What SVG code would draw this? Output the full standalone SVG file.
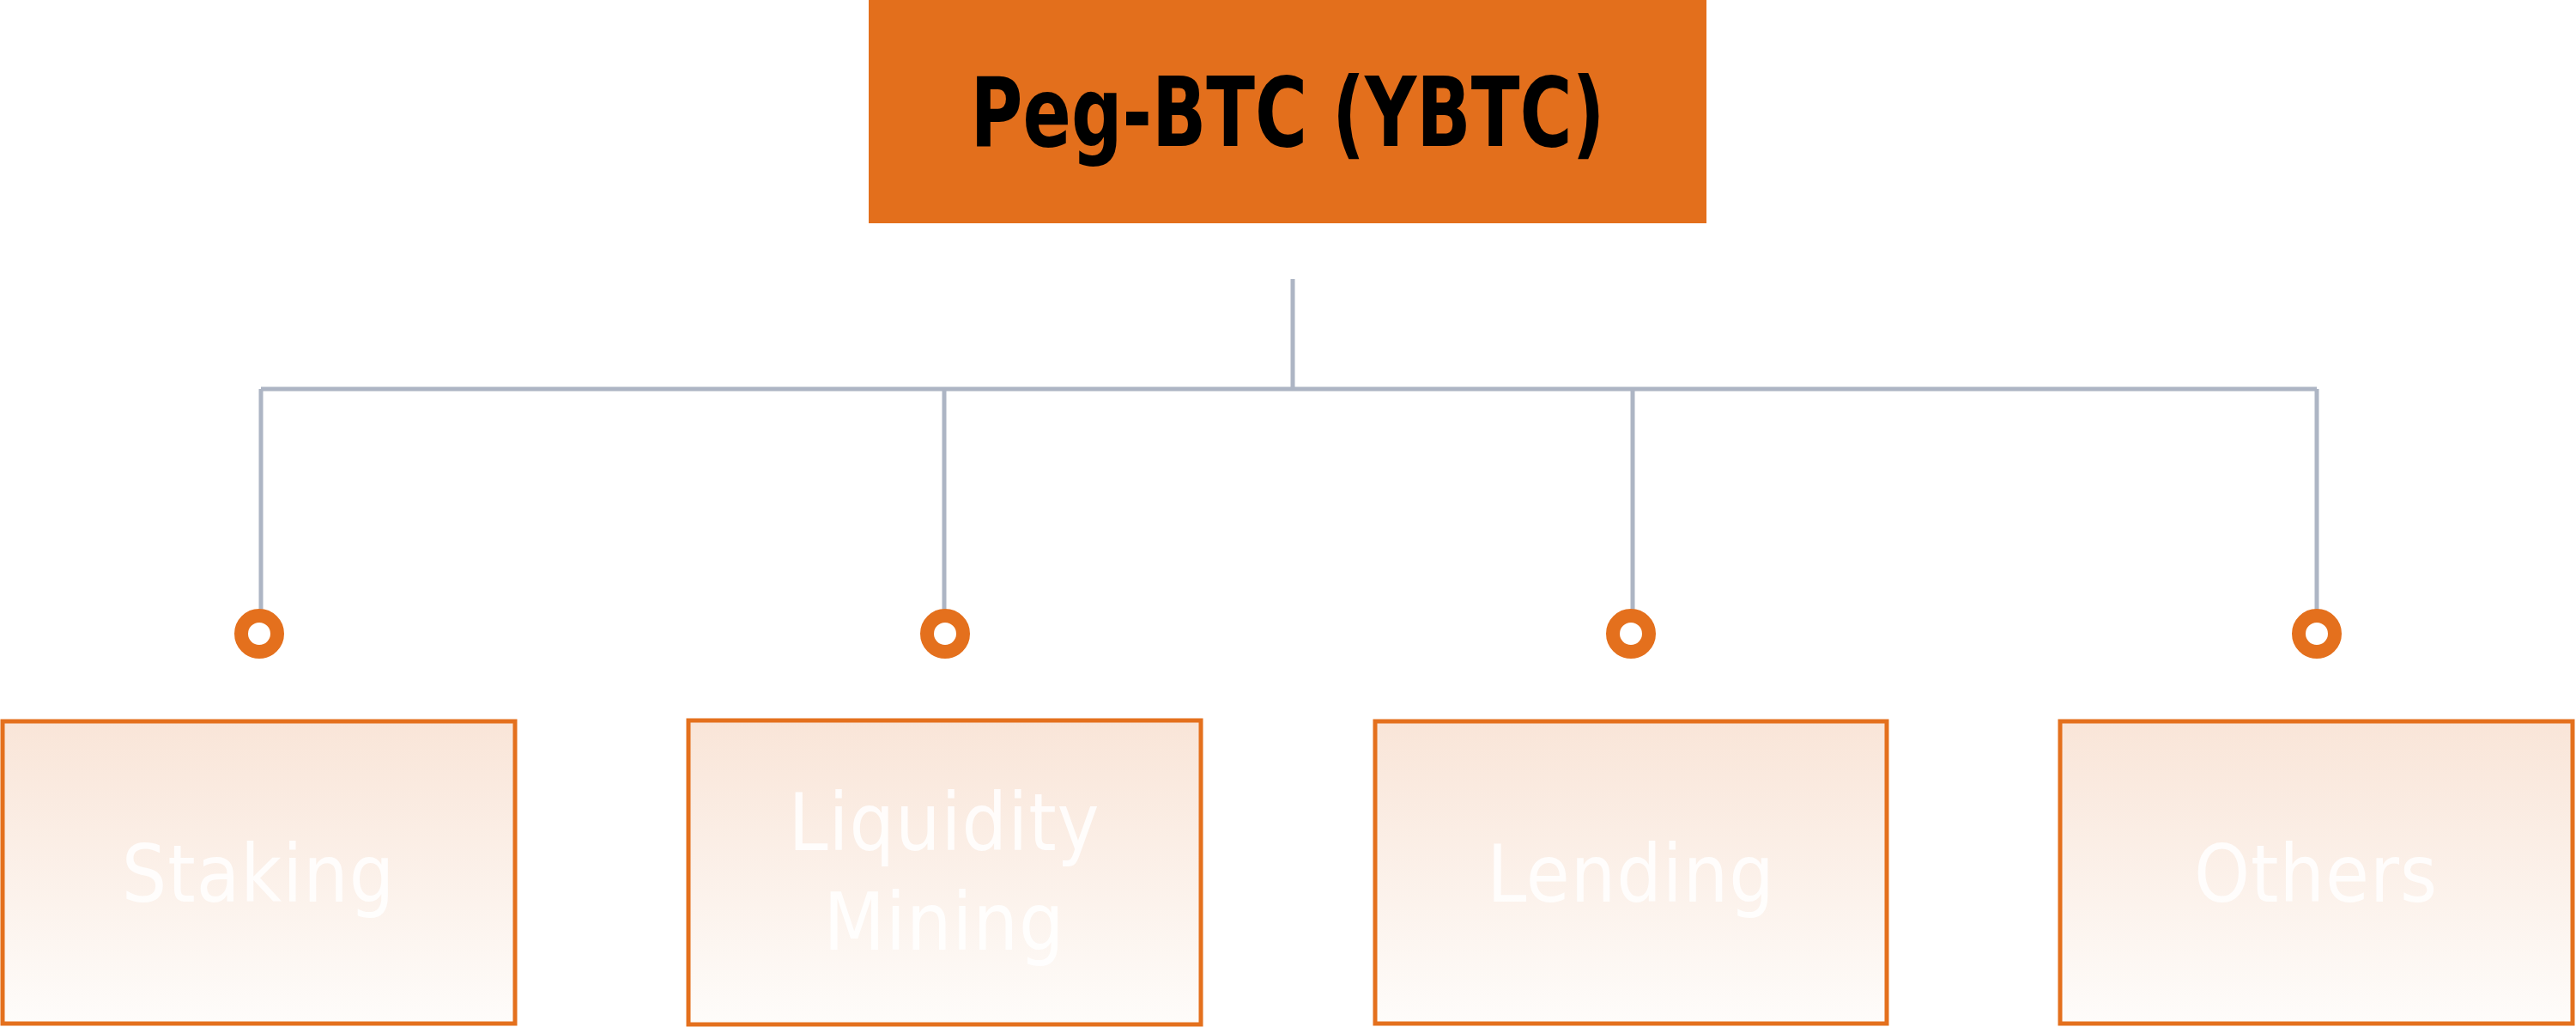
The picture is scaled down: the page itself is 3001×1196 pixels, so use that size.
<svg xmlns="http://www.w3.org/2000/svg" width="3001" height="1196" viewBox="0 0 3001 1196">
<defs>
<linearGradient id="g" x1="0" y1="0" x2="0" y2="1">
<stop offset="0" stop-color="#f9e5d8"/><stop offset="1" stop-color="#fefcfa"/>
</linearGradient>
<style>
.box{fill:url(#g);stroke:#e4701d;stroke-width:5}
.lbl{font-family:"DejaVu Sans Condensed","DejaVu Sans",sans-serif;font-size:92px;fill:#ffffff;fill-opacity:0.85;text-anchor:middle;letter-spacing:1px}
.ln{stroke:#adb5c4;stroke-width:5;fill:none}
.dot{fill:#fff;stroke:#e4701d;stroke-width:16}
</style>
</defs>
<g id="root">
<rect x="1012" y="0" width="976" height="260" fill="#e36f1c"/>
<text x="1500" y="170" font-family="'DejaVu Sans Condensed','DejaVu Sans',sans-serif" font-weight="bold" font-size="112" text-anchor="middle" textLength="739" lengthAdjust="spacingAndGlyphs" fill="#000">Peg-BTC (YBTC)</text>
</g>
<g id="connectors">
<path class="ln" d="M1506 325V453M304 453H2699M304 453V710M1100 453V710M1902 453V710M2699 453V710"/>
<circle class="dot" cx="302" cy="738" r="21"/>
<circle class="dot" cx="1101" cy="738" r="21"/>
<circle class="dot" cx="1900" cy="738" r="21"/>
<circle class="dot" cx="2699" cy="738" r="21"/>
</g>
<g id="staking"><rect class="box" x="3" y="840" width="597" height="352"/><text class="lbl" x="301" y="1050">Staking</text></g>
<g id="liquidity"><rect class="box" x="802" y="839" width="597" height="354"/><text class="lbl" x="1100" y="990">Liquidity</text><text class="lbl" x="1100" y="1106">Mining</text></g>
<g id="lending"><rect class="box" x="1602" y="840" width="596" height="352"/><text class="lbl" x="1900" y="1050">Lending</text></g>
<g id="others"><rect class="box" x="2400" y="840" width="597" height="352"/><text class="lbl" x="2698" y="1050">Others</text></g>
</svg>
